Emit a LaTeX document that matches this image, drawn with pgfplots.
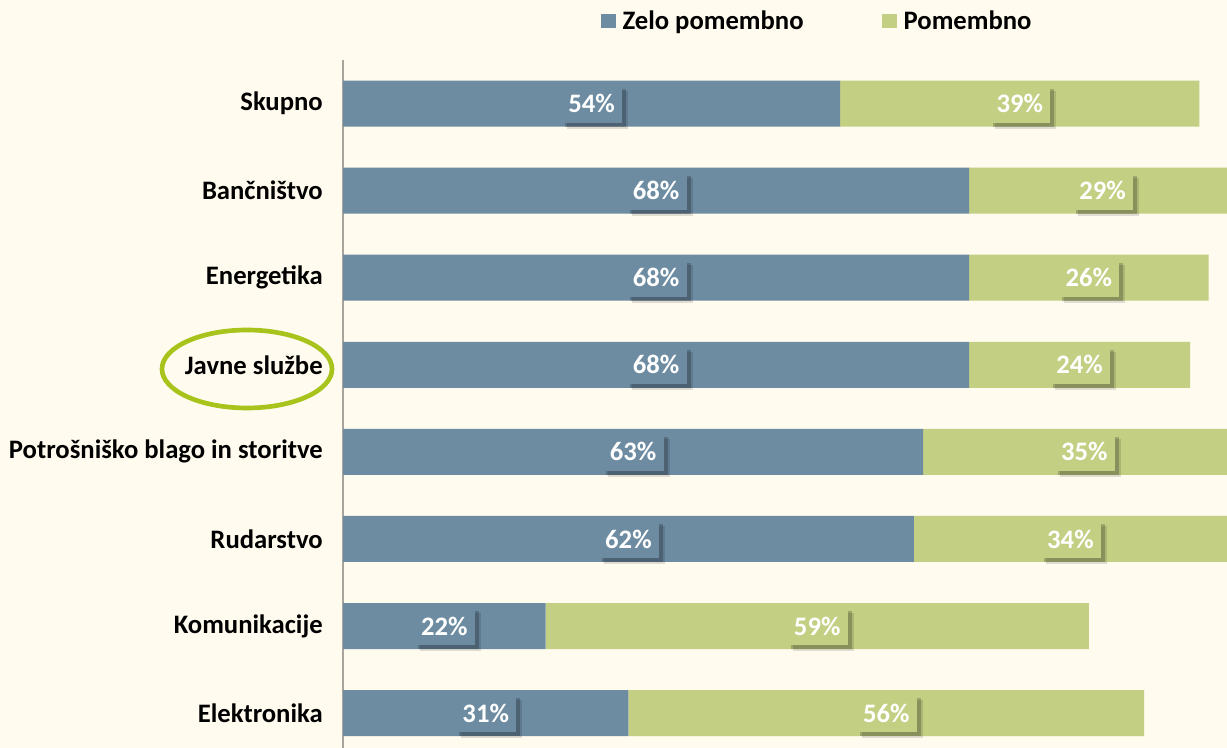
\documentclass[border=0pt]{standalone}
\usepackage{pgfplots}
\usepackage{pgfplotstable}
\pgfplotsset{compat=1.18}
\usepackage{fontspec}
\setmainfont{Carlito}
\usetikzlibrary{shadows}
\definecolor{bg}{HTML}{FFFBEE}
\definecolor{zelo}{HTML}{6D8CA2}
\definecolor{pom}{HTML}{C3D083}
\definecolor{ring}{HTML}{A8C41C}
\definecolor{axgray}{HTML}{A8A49C}
\newcommand{\lblfont}{\fontsize{20}{24}\selectfont\bfseries}
\pgfplotstableread{
y zelo pom
0 31 56
1 22 59
2 62 34
3 63 35
4 68 24
5 68 26
6 68 29
7 54 39
}\data
\pgfplotsset{
  common/.style={
    at={(257.25pt,0pt)}, anchor=south west,
    scale only axis, width=663pt, height=516pt,
    xmin=0, xmax=96, ymin=-0.4, ymax=7.5,
  },
  lbl/.style={only marks, mark=none, draw=none,
    point meta=explicit,
    nodes near coords={\pgfmathprintnumber[assume math mode=true]{\pgfplotspointmeta}\%},
    every node near coord/.append style={anchor=center, text=white, font=\lblfont,
      inner xsep=5.5pt, minimum height=28.5pt, fill=#1,
      general shadow={shadow xshift=4.5pt, shadow yshift=-4.5pt, opacity=0.12, fill=black},
      general shadow={shadow xshift=3pt, shadow yshift=-3pt, opacity=0.2, fill=black}}},
}
\begin{document}
\begin{tikzpicture}
\fill[bg] (0pt,0pt) rectangle (920.25pt,561pt);
\begin{axis}[common,
  xbar stacked, bar width=34.5pt,
  axis y line*=left, axis x line=none,
  y axis line style={draw=axgray, line width=1.5pt, -},
  xtick=\empty,
  ytick={0,...,7},
  yticklabels={Elektronika, Komunikacije, Rudarstvo, Potrošniško blago in storitve, Javne službe, Energetika, Bančništvo, Skupno},
  major tick length=0pt,
  yticklabel style={font=\lblfont, text=black, inner sep=0pt, xshift=-15pt},
  legend style={at={(0.537,1.0567)}, anchor=center, draw=none, fill=none,
    font=\lblfont, legend columns=2,
    /tikz/every odd column/.append style={column sep=3pt},
    /tikz/every even column/.append style={column sep=57pt},
    legend cell align=left},
  legend image code/.code={\fill[#1] (0pt,-5.5pt) rectangle (11pt,5.5pt);},
]
\addplot[fill=zelo, draw=none] table[x=zelo, y=y] {\data};
\addlegendentry{Zelo pomembno}
\addplot[fill=pom, draw=none] table[x=pom, y=y] {\data};
\addlegendentry{Pomembno}
\end{axis}
\begin{axis}[common, hide axis, clip=false]
\addplot[lbl=zelo] table[x expr=\thisrow{zelo}/2, y=y, meta=zelo] {\data};
\addplot[lbl=pom] table[x expr=\thisrow{zelo}+\thisrow{pom}/2, y=y, meta=pom] {\data};
\end{axis}
\draw[ring, line width=3.5pt] (185.25pt,284.25pt) ellipse [x radius=63.75pt, y radius=29.25pt];
\pgfresetboundingbox
\path (0pt,0pt) rectangle (920.25pt,561pt);
\end{tikzpicture}
\end{document}
